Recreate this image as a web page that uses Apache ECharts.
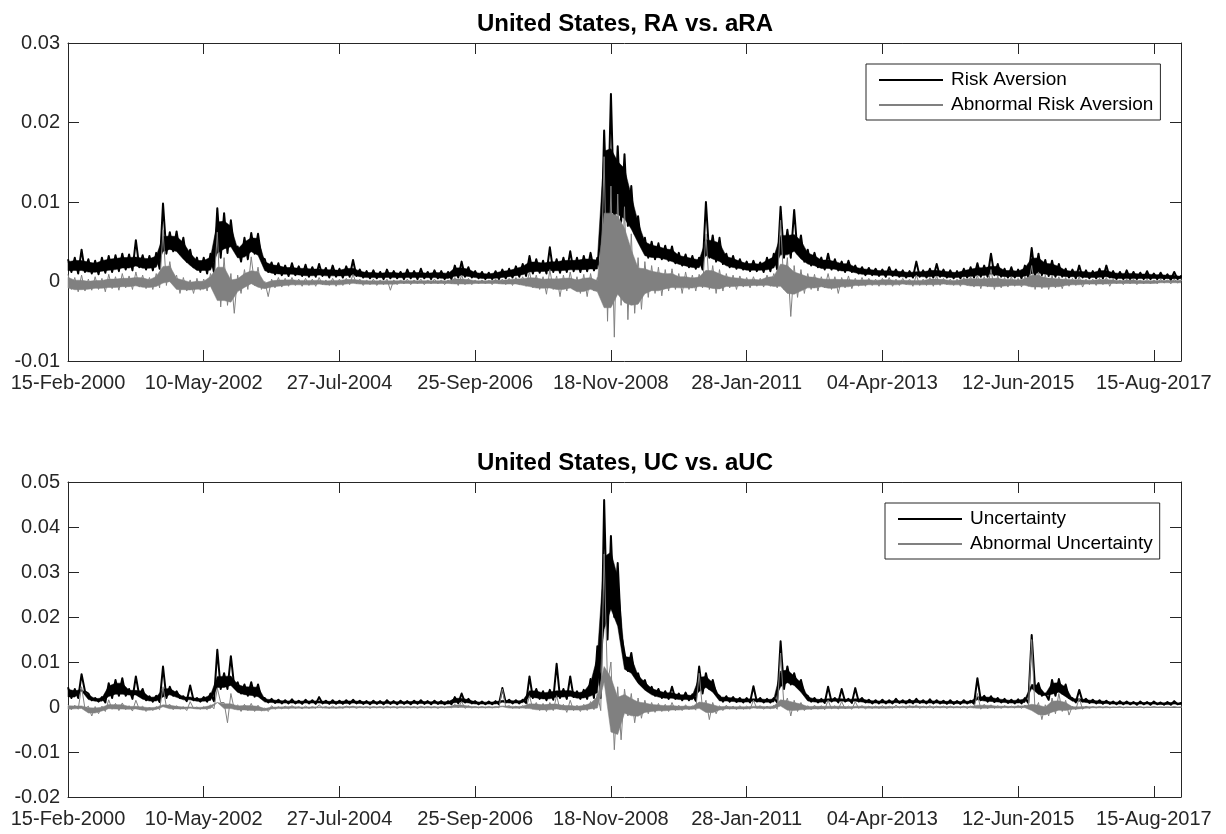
<!DOCTYPE html>
<html>
<head>
<meta charset="utf-8">
<script src="https://cdn.jsdelivr.net/npm/echarts@6/dist/echarts.min.js"></script>
<style>
  html, body { margin: 0; padding: 0; background: #ffffff; }
  #chart { width: 1226px; height: 834px; }
</style>
</head>
<body>
<div id="chart"></div>
<script>
// Tick labels of the shared date axis (one label per tick unit)
const dateTicks = ['15-Feb-2000', '10-May-2002', '27-Jul-2004', '25-Sep-2006', '18-Nov-2008',
                   '28-Jan-2011', '04-Apr-2013', '12-Jun-2015', '15-Aug-2017'];
const X_MAX = 8.2;      // axis end, in tick units
const STEP = 0.05;      // spacing of the samples below, in tick units
const UNIT = 1e-3;      // the arrays are written in thousandths

// Risk aversion: upper and lower envelope of each sample window
const raHi = [
  2.8,3.0,4.0,2.8,2.6,3.0,3.2,3.3,3.5,3.4,
  5.2,3.3,3.2,3.6,9.8,6.2,6.3,5.5,4.0,3.0,
  3.0,3.5,9.2,8.6,7.7,4.4,5.5,6.1,6.0,2.8,
  2.4,2.3,2.0,2.3,1.9,2.1,1.8,2.2,1.7,2.0,
  1.6,1.9,2.7,1.5,1.3,1.4,1.2,1.5,1.3,1.2,
  1.5,1.3,1.6,1.2,1.4,1.3,1.2,2.0,2.5,1.8,
  1.3,1.2,1.1,1.3,1.5,1.6,1.9,2.2,3.2,2.8,
  2.6,4.3,2.8,3.0,3.8,3.0,3.2,3.6,3.0,19.0,
  23.6,17.0,16.0,12.0,8.2,5.5,5.0,4.8,4.5,4.4,
  3.6,3.4,3.2,3.0,10.0,5.8,5.5,3.5,3.2,2.8,
  2.5,2.6,2.4,3.0,3.5,9.4,6.5,9.0,5.8,4.0,
  3.6,3.0,3.5,2.8,2.5,2.6,2.0,1.8,1.7,1.6,
  1.5,1.8,1.5,1.4,1.3,2.5,1.4,1.6,2.2,1.5,
  1.4,1.3,1.6,1.8,2.3,2.0,3.5,2.2,1.6,1.8,
  1.5,2.0,4.2,3.5,2.7,2.6,2.2,1.6,1.5,2.0,
  1.4,1.3,1.6,2.0,1.3,1.2,1.4,1.2,1.1,1.3,
  1.0,1.1,0.9,1.2,0.7
];
const raLo = [
  1.2,1.0,1.2,1.0,0.9,1.1,1.2,1.3,1.5,1.4,
  1.8,1.5,1.4,1.6,3.5,3.8,3.5,2.5,1.8,1.2,
  1.0,1.2,3.0,3.6,4.0,2.5,2.8,3.5,3.0,1.2,
  0.9,0.8,0.7,0.8,0.7,0.6,0.6,0.7,0.5,0.6,
  0.5,0.6,0.7,0.5,0.4,0.4,0.3,0.4,0.4,0.3,
  0.4,0.3,0.4,0.3,0.4,0.3,0.3,0.5,0.6,0.5,
  0.4,0.3,0.3,0.3,0.4,0.5,0.6,0.7,1.0,1.1,
  1.0,1.2,1.1,1.2,1.3,1.2,1.3,1.4,1.3,6.0,
  7.5,7.5,7.0,6.0,4.5,3.0,2.8,2.8,2.6,2.3,
  2.0,1.8,1.6,1.5,3.0,2.5,2.2,1.8,1.6,1.5,
  1.3,1.3,1.2,1.3,1.5,3.0,3.0,3.5,2.5,2.0,
  1.8,1.5,1.5,1.4,1.2,1.2,1.0,0.8,0.8,0.7,
  0.6,0.7,0.6,0.5,0.5,0.6,0.5,0.5,0.6,0.5,
  0.4,0.4,0.5,0.5,0.6,0.6,0.8,0.6,0.5,0.5,
  0.4,0.5,0.7,0.8,0.7,0.6,0.6,0.5,0.4,0.5,
  0.4,0.4,0.4,0.5,0.3,0.3,0.3,0.3,0.3,0.3,
  0.3,0.3,0.2,0.3,0.3
];

// Abnormal risk aversion
const araHi = [
  0.9,0.5,0.8,0.3,0.6,0.4,0.9,0.6,1.0,0.7,
  1.2,0.8,0.5,1.0,6.5,2.5,0.8,0.5,0.2,0.4,
  0.3,1.0,6.2,3.0,1.0,0.8,1.5,3.1,1.8,0.0,
  0.3,0.5,0.4,0.5,0.3,0.4,0.3,0.5,0.2,0.4,
  0.3,0.4,0.9,0.3,0.2,0.3,0.2,0.3,0.2,0.2,
  0.3,0.2,0.3,0.2,0.3,0.2,0.2,0.5,0.8,0.4,
  0.2,0.2,0.2,0.3,0.3,0.4,0.5,0.6,1.2,0.8,
  0.6,1.5,0.7,0.8,1.2,0.6,0.9,1.0,0.5,15.7,
  12.0,11.0,9.4,6.0,3.0,2.5,2.0,1.8,1.5,1.6,
  1.0,1.2,0.8,0.9,6.0,2.0,1.5,1.0,0.8,0.7,
  0.5,0.6,0.4,0.8,1.0,7.7,3.0,2.0,1.5,1.0,
  0.9,0.6,1.0,0.6,0.5,0.7,0.4,0.5,0.4,0.3,
  0.4,0.5,0.3,0.4,0.3,0.8,0.3,0.5,0.7,0.4,
  0.3,0.3,0.5,0.6,0.8,0.6,1.5,0.7,0.5,0.6,
  0.4,0.6,2.0,1.2,0.8,0.7,0.6,0.5,0.4,0.6,
  0.3,0.3,0.4,0.5,0.3,0.2,0.3,0.3,0.2,0.3,
  0.2,0.3,0.2,0.3,0.2
];
const araLo = [
  -1.0,-1.3,-1.2,-1.1,-1.0,-1.3,-0.9,-1.1,-0.8,-1.0,
  -0.7,-0.9,-1.0,-0.8,-0.5,-0.3,-1.5,-1.2,-1.5,-1.1,
  -1.2,-0.8,-3.2,-3.0,-4.0,-1.5,-1.0,-0.5,-1.0,-1.9,
  -0.8,-0.7,-0.6,-0.5,-0.6,-0.5,-0.6,-0.4,-0.5,-0.6,
  -0.5,-0.4,-0.3,-0.5,-0.4,-0.5,-0.4,-1.1,-0.4,-0.3,
  -0.4,-0.3,-0.4,-0.3,-0.3,-0.4,-0.3,-0.5,-0.4,-0.4,
  -0.3,-0.3,-0.4,-0.3,-0.4,-0.5,-0.4,-0.6,-0.8,-1.0,
  -1.6,-1.0,-1.9,-1.2,-1.0,-1.5,-1.9,-1.2,-1.5,-5.0,
  -7.0,-3.0,-4.8,-4.0,-3.5,-2.0,-1.5,-1.8,-1.2,-1.0,
  -1.5,-1.0,-1.2,-0.8,-1.0,-1.5,-1.2,-0.8,-1.0,-0.7,
  -0.8,-0.6,-0.7,-0.6,-0.8,-1.0,-4.4,-2.0,-1.5,-1.0,
  -1.2,-0.8,-1.0,-1.5,-0.8,-0.9,-0.6,-0.6,-0.5,-0.6,
  -0.5,-0.6,-0.5,-0.4,-0.6,-0.5,-0.5,-0.6,-0.5,-0.4,
  -0.5,-0.6,-0.5,-0.7,-0.9,-0.7,-1.0,-0.8,-0.7,-0.6,
  -0.7,-0.6,-1.0,-0.9,-1.0,-0.8,-0.9,-0.6,-0.5,-0.7,
  -0.4,-0.5,-0.4,-0.6,-0.3,-0.4,-0.3,-0.4,-0.3,-0.3,
  -0.3,-0.2,-0.3,-0.2,-0.2
];

// Uncertainty
const ucHi = [
  4.4,4.0,7.3,3.0,2.0,2.2,5.3,6.0,6.4,4.0,
  6.8,4.0,2.4,2.5,9.0,4.5,3.5,2.4,4.8,2.0,
  2.2,3.0,12.7,7.5,11.3,5.5,5.0,5.5,5.0,2.0,
  1.8,1.6,1.5,1.7,1.4,1.6,1.5,2.2,1.4,1.5,
  1.4,1.5,1.6,1.4,1.3,1.4,1.3,1.5,1.3,1.4,
  1.3,1.4,1.5,1.3,1.4,1.3,1.3,2.2,3.0,1.8,
  1.3,1.2,1.2,1.3,4.2,1.6,1.5,1.6,6.8,4.0,
  3.5,3.8,9.6,4.0,6.8,3.5,3.8,6.2,13.5,46.0,
  38.0,32.0,12.0,12.0,7.5,6.0,4.5,4.0,3.5,4.5,
  3.0,3.2,2.8,9.0,7.5,6.0,2.5,2.4,2.2,2.0,
  2.0,4.6,2.0,1.8,2.0,14.6,9.0,7.5,6.0,2.5,
  2.0,1.8,4.5,2.0,4.0,1.8,4.2,2.0,1.6,1.5,
  1.6,1.5,1.8,1.5,1.6,1.8,1.5,1.7,1.5,1.4,
  1.5,1.3,1.5,1.4,6.4,2.5,2.4,2.0,1.8,1.6,
  1.7,2.0,16.0,5.3,3.0,6.0,6.2,5.0,2.0,3.8,
  1.8,1.6,1.5,1.4,1.2,1.3,1.2,1.1,1.2,1.1,
  1.2,1.0,1.1,1.3,0.9
];
const ucLo = [
  2.0,2.0,3.5,1.5,1.2,1.0,2.0,2.5,2.5,1.8,
  2.5,1.5,1.2,1.1,2.0,2.5,2.0,1.3,1.5,1.2,
  1.2,1.3,4.0,4.0,4.5,3.0,2.5,2.3,2.0,1.0,
  0.9,0.8,0.8,0.8,0.7,0.8,0.7,0.8,0.7,0.7,
  0.7,0.7,0.8,0.7,0.6,0.7,0.6,0.7,0.6,0.7,
  0.6,0.7,0.7,0.6,0.7,0.6,0.6,0.8,1.0,0.8,
  0.6,0.6,0.6,0.6,1.0,0.8,0.8,0.9,2.0,1.8,
  1.5,1.6,2.0,1.8,2.2,1.8,1.8,2.0,2.0,15.0,
  20.0,16.4,8.0,7.0,5.0,3.5,2.5,2.0,1.8,1.8,
  1.5,1.5,1.4,3.0,4.0,3.0,1.2,1.2,1.1,1.0,
  1.0,1.2,1.0,1.0,1.0,4.0,5.0,4.5,3.0,1.2,
  1.0,0.9,1.2,1.0,1.2,0.9,1.2,1.0,0.8,0.8,
  0.8,0.8,0.9,0.8,0.8,0.9,0.8,0.8,0.8,0.7,
  0.7,0.7,0.8,0.7,1.5,1.2,1.1,1.0,0.9,0.8,
  0.8,0.9,4.0,2.5,1.6,2.5,3.0,2.0,1.0,1.2,
  0.9,0.8,0.7,0.7,0.6,0.6,0.6,0.5,0.6,0.5,
  0.6,0.5,0.5,0.6,0.5
];

// Abnormal uncertainty
const aucHi = [
  0.5,0.4,4.5,0.2,0.1,0.2,1.6,0.8,0.9,0.3,
  1.5,0.2,0.0,0.1,4.5,0.6,0.3,0.1,1.2,0.0,
  0.1,0.5,4.2,1.0,3.0,0.5,0.6,0.8,0.4,-0.2,
  0.3,0.1,0.2,0.3,0.1,0.2,0.1,0.5,0.1,0.2,
  0.1,0.2,0.2,0.1,0.1,0.1,0.1,0.2,0.1,0.1,
  0.1,0.1,0.2,0.1,0.1,0.1,0.1,0.6,1.2,0.3,
  0.1,0.1,0.1,0.1,4.0,0.3,0.2,0.3,2.5,1.0,
  0.8,1.0,2.5,0.6,1.5,0.4,0.6,1.2,3.0,34.0,
  10.0,4.5,4.0,3.0,2.0,1.5,1.0,0.8,0.6,1.0,
  0.4,0.5,0.3,7.5,1.5,1.0,0.3,0.4,0.2,0.3,
  0.2,1.5,0.3,0.2,0.4,12.0,2.0,1.5,1.0,0.3,
  0.4,0.3,1.5,0.3,1.2,0.2,1.2,0.3,0.2,0.2,
  0.3,0.2,0.4,0.2,0.3,0.4,0.2,0.3,0.2,0.2,
  0.2,0.1,0.2,0.2,3.0,0.6,0.5,0.3,0.3,0.2,
  0.3,0.4,15.0,1.0,0.5,2.0,3.0,1.5,0.2,2.0,
  0.2,0.1,0.1,0.1,0.0,0.1,0.0,0.0,0.1,0.0,
  0.1,0.0,0.0,0.1,0.0
];
const aucLo = [
  -0.6,-0.5,-0.4,-2.0,-1.5,-1.0,-0.5,-0.8,-0.6,-0.9,
  -0.5,-1.0,-0.8,-0.6,0.0,-0.6,-0.5,-0.8,-0.3,-0.5,
  -0.6,-0.4,1.0,-3.5,-0.5,-1.0,-0.8,-1.0,-0.9,-1.0,
  -0.5,-0.4,-0.4,-0.3,-0.4,-0.3,-0.3,-0.2,-0.3,-0.3,
  -0.3,-0.2,-0.3,-0.2,-0.3,-0.2,-0.3,-0.2,-0.3,-0.2,
  -0.2,-0.3,-0.2,-0.2,-0.3,-0.2,-0.2,-0.2,-0.3,-0.2,
  -0.2,-0.2,-0.2,-0.2,0.0,-0.3,-0.3,-0.3,-0.5,-0.8,
  -1.0,-0.8,-0.6,-1.2,-0.8,-1.0,-0.8,-0.6,-0.8,5.0,
  -9.5,-7.3,-2.0,-3.5,-2.5,-1.5,-1.2,-1.0,-1.0,-0.8,
  -0.8,-0.6,-0.7,-0.5,-2.8,-1.5,-0.8,-0.5,-0.6,-0.5,
  -0.5,-0.3,-0.5,-0.4,-0.5,0.0,-2.0,-1.0,-0.8,-0.6,
  -0.5,-0.6,-0.4,-0.5,-0.4,-0.5,-0.3,-0.4,-0.3,-0.3,
  -0.3,-0.3,-0.2,-0.3,-0.2,-0.3,-0.2,-0.3,-0.2,-0.3,
  -0.2,-0.2,-0.3,-0.2,-0.5,-0.4,-0.3,-0.3,-0.2,-0.2,
  -0.3,-0.2,-1.0,-2.8,-2.0,-1.5,-1.0,-1.8,-0.6,-0.5,
  -0.3,-0.2,-0.2,-0.2,-0.1,-0.2,-0.1,-0.1,-0.2,-0.1,
  -0.1,-0.1,-0.1,-0.1,-0.1
];

// Each sample contributes its high and its low, half a step apart,
// which draws the jagged trace of the daily series.
function zigzag(hi, lo) {
  const pts = [];
  for (let i = 0; i < hi.length; i++) {
    pts.push([i * STEP, hi[i] * UNIT]);
    pts.push([i * STEP + STEP / 2, lo[i] * UNIT]);
  }
  return pts;
}

// Dense middle part of the trace. A lone spike (higher or lower than both
// neighbours) is left to the trace; the core covers the inner part of the range.
const CORE_LOW = 0.1, CORE_HIGH = 0.8;
function coreBand(hi, lo) {
  const n = hi.length, top = [], bot = [];
  for (let i = 0; i < n; i++) {
    const p = Math.max(0, i - 1), q = Math.min(n - 1, i + 1);
    const h = Math.min(hi[i], Math.max(hi[p], hi[q]));
    const l = Math.max(lo[i], Math.min(lo[p], lo[q]));
    const span = Math.max(0, h - l);
    top.push(l + CORE_HIGH * span);
    bot.push(l + CORE_LOW * span);
  }
  return { top: top, bot: bot };
}

const FONT = '"Liberation Sans", Arial, Helvetica, sans-serif';
const AXIS_COLOR = '#262626';
const GRIDS = [
  { left: 68, top: 43, width: 1113, height: 318 },
  { left: 68, top: 482, width: 1113, height: 315 }
];

function xAxisPair(gi) {
  const common = {
    type: 'value', gridIndex: gi, min: 0, max: X_MAX, interval: 1,
    splitLine: { show: false },
    axisLine: { onZero: false, lineStyle: { color: AXIS_COLOR, width: 1 } },
    axisTick: { inside: true, length: 11, lineStyle: { color: AXIS_COLOR, width: 1 } }
  };
  return [
    Object.assign({}, common, {
      position: 'bottom',
      axisLabel: {
        color: AXIS_COLOR, fontSize: 20, fontFamily: FONT, margin: 12,
        formatter: function (v) {
          const k = Math.round(v);
          return Math.abs(v - k) < 1e-9 && dateTicks[k] ? dateTicks[k] : '';
        }
      }
    }),
    Object.assign({}, common, { position: 'top', axisLabel: { show: false } })
  ];
}

function yAxisPair(gi, min, max) {
  const common = {
    type: 'value', gridIndex: gi, min: min, max: max, interval: 0.01,
    splitLine: { show: false },
    axisLine: { onZero: false, lineStyle: { color: AXIS_COLOR, width: 1 } },
    axisTick: { inside: true, length: 11, lineStyle: { color: AXIS_COLOR, width: 1 } }
  };
  return [
    Object.assign({}, common, {
      position: 'left',
      axisLabel: {
        color: AXIS_COLOR, fontSize: 20, fontFamily: FONT, margin: 8,
        formatter: function (v) { return String(Math.round(v * 100) / 100); }
      }
    }),
    Object.assign({}, common, { position: 'right', axisLabel: { show: false } })
  ];
}

// One daily series: its dense core, then the jagged trace on top
function seriesGroup(name, key, axis, hi, lo, color, width, z) {
  const core = coreBand(hi, lo);
  return [
    {
      type: 'custom', name: key + '-core', xAxisIndex: axis, yAxisIndex: axis,
      silent: true, z: z, data: [[0, 0]],
      renderItem: function (params, api) {
        const pts = [];
        for (let i = 0; i < core.top.length; i++) pts.push(api.coord([i * STEP, core.top[i] * UNIT]));
        for (let i = core.bot.length - 1; i >= 0; i--) pts.push(api.coord([i * STEP, core.bot[i] * UNIT]));
        return {
          type: 'polygon', shape: { points: pts },
          style: { fill: color, stroke: color, lineWidth: 0.5 }
        };
      }
    },
    {
      type: 'line', name: name, xAxisIndex: axis, yAxisIndex: axis,
      data: zigzag(hi, lo), symbol: 'none', showSymbol: false, silent: true,
      sampling: null, z: z,
      lineStyle: { color: color, width: width, join: 'round' },
      itemStyle: { color: color }
    }
  ];
}

function legendBox(names, left, top) {
  return {
    data: names, orient: 'vertical', left: left, top: top,
    itemWidth: 64, itemHeight: 12, itemGap: 1,
    padding: [4, 7, 3, 12],
    borderColor: AXIS_COLOR, borderWidth: 1, backgroundColor: '#ffffff',
    selectedMode: false,
    itemStyle: { opacity: 0 },
    textStyle: { fontSize: 19, fontFamily: FONT, color: '#000000', lineHeight: 24, padding: [0, 0, 0, 3] }
  };
}

function titleText(text, y) {
  return {
    type: 'text', x: 625, y: y, silent: true,
    style: {
      text: text, fill: '#000000', font: 'bold 24px ' + FONT,
      align: 'center', verticalAlign: 'middle',
      textAlign: 'center', textVerticalAlign: 'middle'
    }
  };
}

const chart = echarts.init(document.getElementById('chart'), null, { renderer: 'canvas' });
chart.setOption({
  animation: false,
  backgroundColor: '#ffffff',
  grid: GRIDS,
  xAxis: xAxisPair(0).concat(xAxisPair(1)),
  yAxis: yAxisPair(0, -0.01, 0.03).concat(yAxisPair(1, -0.02, 0.05)),
  legend: [
    legendBox(['Risk Aversion', 'Abnormal Risk Aversion'], 866, 64),
    legendBox(['Uncertainty', 'Abnormal Uncertainty'], 885, 503)
  ],
  graphic: [
    titleText('United States, RA vs. aRA', 24),
    titleText('United States, UC vs. aUC', 463)
  ],
  series: [].concat(
    seriesGroup('Risk Aversion', 'ra', 0, raHi, raLo, '#000000', 2, 2),
    seriesGroup('Abnormal Risk Aversion', 'ara', 0, araHi, araLo, '#808080', 1, 3),
    seriesGroup('Uncertainty', 'uc', 2, ucHi, ucLo, '#000000', 2, 2),
    seriesGroup('Abnormal Uncertainty', 'auc', 2, aucHi, aucLo, '#808080', 1, 3)
  )
});
</script>
</body>
</html>
